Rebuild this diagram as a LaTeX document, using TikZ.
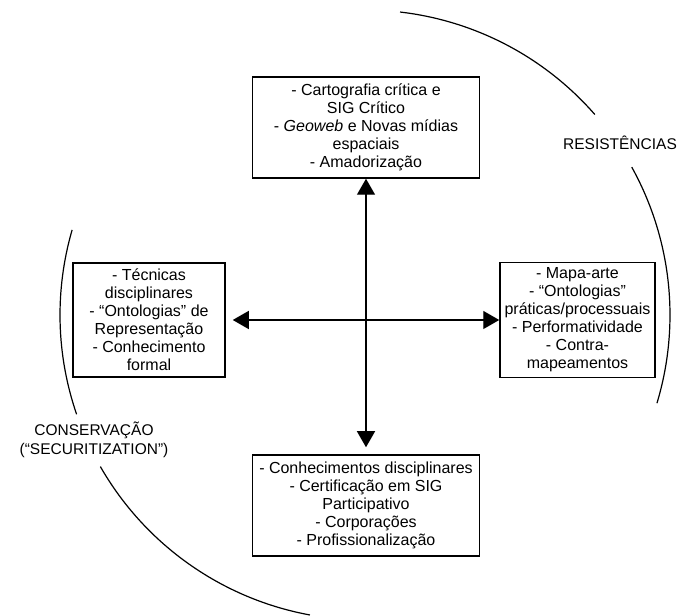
\documentclass[tikz,border=0pt]{standalone}
\usepackage{fontspec}
\setmainfont{Liberation Sans}
\usetikzlibrary{arrows.meta, positioning}

\begin{document}
\begin{tikzpicture}[x=1pt, y=1pt,
        caixa/.style={draw, line width=1.5pt, align=center, inner sep=0pt, font=\fontsize{16}{18}\selectfont},
        rotulo/.style={align=center, font=\fontsize{15.5}{19}\selectfont},
        seta/.style={{Triangle[length=16pt,width=18pt]}-{Triangle[length=16pt,width=18pt]}, line width=1.4pt},
        arco/.style={line width=1.2pt}]
        \useasboundingbox (0,0) rectangle (681,616);

        % Nodes
        \node[caixa, minimum width=227pt, minimum height=101pt] (critica) at (366,488.5) {- Cartografia crítica e\\SIG Crítico\\- \textit{Geoweb} e Novas mídias\\espaciais\\- Amadorização};
        \node[caixa, minimum width=152pt, minimum height=114pt] (tecnicas) at (149,296) {- Técnicas\\disciplinares\\- “Ontologias” de\\Representação\\- Conhecimento\\formal};
        \node[caixa, minimum width=155pt, minimum height=115pt] (praticas) at (577.5,296) {- Mapa-arte\\- “Ontologias”\\práticas/processuais\\- Performatividade\\- Contra-\\mapeamentos};
        \node[caixa, minimum width=227pt, minimum height=101pt] (disciplinar) at (366,110.5) {- Conhecimentos disciplinares\\- Certificação em SIG\\Participativo\\- Corporações\\- Profissionalização};

        % Labels
        \node[rotulo] (resist) at (620,473) {RESISTÊNCIAS};
        \node[rotulo] (conserv) at (94,176) {CONSERVAÇÃO\\(“SECURITIZATION”)};

        % Arrows
        \draw[seta, shorten >=7pt] (critica) -- (disciplinar);
        \draw[seta, shorten >=7pt] (praticas) -- (tecnicas);

        % Arcs
        \coordinate (centro) at (365,301);
        \draw[arco] (centro) ++(83.4:305pt) arc[start angle=83.4, end angle=41.1, radius=305pt];
        \draw[arco] (centro) ++(29:305pt) arc[start angle=29, end angle=-16.8, radius=305pt];
        \draw[arco] (centro) ++(163.8:305pt) arc[start angle=163.8, end angle=199, radius=305pt];
        \draw[arco] (centro) ++(209.8:305pt) arc[start angle=209.8, end angle=259.6, radius=305pt];
\end{tikzpicture}
\end{document}
